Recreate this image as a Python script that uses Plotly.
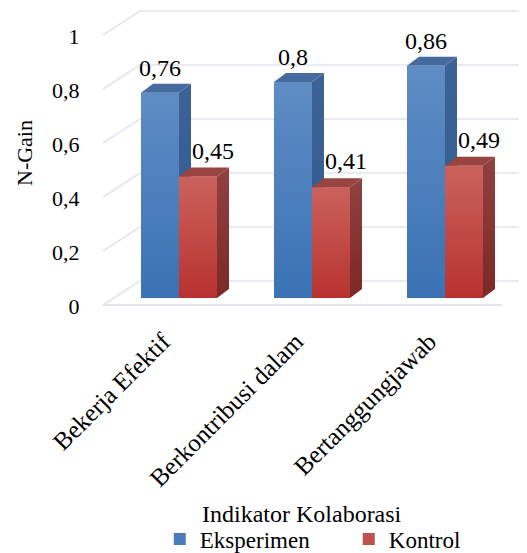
import plotly.graph_objects as go

categories = ["Bekerja Efektif", "Berkontribusi dalam", "Bertanggungjawab"]
eksperimen = [0.76, 0.8, 0.86]
kontrol = [0.45, 0.41, 0.49]
y_ticks = [0, 0.2, 0.4, 0.6, 0.8, 1]
x_title = "Indikator Kolaborasi"
y_title = "N-Gain"

FONT = "Liberation Serif"
W, H = 519, 545                   # page body margin is 8 px
L, R, T, B = 92, 519, 0, 307      # plot area in figure pixels
UX, UY = 133.0, 270.0             # pixels per data unit
X0, Y0 = 171.0, 290.0             # figure pixel of x=0, y=0
BAR = 38 / UX                     # bar width in x units
DX, DY = 12 / UX, 9 / UY          # bar depth
WX, WY = 37 / UX, 24 / UY         # floor depth
FX, FY = -76 / UX, -7 / UY        # front-left floor corner
GRID = "#e2e5ef"


def dx(p):
    return p / UX


def dy(p):
    return p / UY


def px(p):
    return (p - L) / (R - L)


def py(p):
    return (B - p) / (B - T)


def poly(xs, ys, stops, kind="vertical"):
    return go.Scatter(
        x=xs, y=ys, mode="lines", fill="toself", line=dict(width=0),
        fillgradient=dict(type=kind, colorscale=stops),
        hoverinfo="skip", showlegend=False,
    )


fig = go.Figure()

# wall / floor grid
for v in y_ticks:
    yf = v + FY
    yb = yf + WY
    xl = FX
    xb = xl + WX
    fig.add_trace(go.Scatter(x=[xl, xb, dx(R - X0)], y=[yf, yb, yb], mode="lines",
                             line=dict(color=GRID, width=1.6), hoverinfo="skip", showlegend=False))
fig.add_trace(go.Scatter(x=[FX, dx(494 - X0)], y=[FY, FY], mode="lines",
                         line=dict(color=GRID, width=1.8), hoverinfo="skip", showlegend=False))

SERIES = [
    dict(name="Eksperimen", vals=eksperimen, off=-BAR, color="#4a7cbb",
         front=[[0, "#3a72b4"], [1, "#5f8cc4"]],
         side=[[0, "#2f5a90"], [1, "#3d6296"]], top="#466c9f"),
    dict(name="Kontrol", vals=kontrol, off=0.0, color="#c0504d",
         front=[[0, "#b8322e"], [1, "#cb625e"]],
         side=[[0, "#7c2826"], [1, "#8f4240"]], top="#984541"),
]

for s in SERIES:
    xc = [i + s["off"] + BAR / 2 for i in range(len(categories))]
    for i, v in enumerate(s["vals"]):
        x0 = i + s["off"]
        x1 = x0 + BAR
        fig.add_trace(poly([x1, x1 + DX, x1 + DX, x1, x1],
                           [0, DY, v + DY, v, 0], s["side"]))
        fig.add_trace(go.Scatter(x=[x0, x0 + DX, x1 + DX, x1, x0], y=[v, v + DY, v + DY, v, v],
                                 mode="lines", fill="toself", fillcolor=s["top"], line=dict(width=0),
                                 hoverinfo="skip", showlegend=False))
    fig.add_trace(go.Bar(x=xc, y=s["vals"], width=BAR, name=s["name"],
                         marker=dict(color=s["color"], line=dict(width=0))))
    for i, v in enumerate(s["vals"]):
        x0 = i + s["off"]
        x1 = x0 + BAR
        fig.add_trace(poly([x0, x1, x1, x0, x0], [0, 0, v, v, 0], s["front"]))

# data labels
label_x = [i - BAR / 2 for i in range(3)] + [i + BAR / 2 + dx(15) for i in range(3)]
label_y = [v + dy(23) for v in eksperimen] + [v + dy(24) for v in kontrol]
label_t = [f"{v:g}".replace(".", ",") for v in eksperimen + kontrol]
fig.add_trace(go.Scatter(x=label_x, y=label_y, text=label_t, mode="text",
                         textposition="middle center",
                         textfont=dict(family=FONT, size=24, color="#000000"),
                         hoverinfo="skip", showlegend=False, cliponaxis=False))

fig.update_layout(
    width=W, height=H, autosize=False,
    margin=dict(l=L, r=W - R, t=T, b=H - B, pad=0, autoexpand=False),
    paper_bgcolor="white", plot_bgcolor="white",
    separators=",.",
    barmode="overlay",
    font=dict(family=FONT, size=22, color="#000000"),
    showlegend=True,
    legend=dict(orientation="h", x=0.14, xanchor="left", y=py(531), yanchor="middle",
                traceorder="normal",
                font=dict(family=FONT, size=23), entrywidth=144, entrywidthmode="pixels",
                itemsizing="constant", bgcolor="rgba(0,0,0,0)"),
    xaxis=dict(range=[(L - X0) / UX, (R - X0) / UX], tickmode="array", tickvals=[0, 1, 2],
               ticktext=categories, tickangle=-45, showgrid=False, zeroline=False,
               showline=False, ticks="outside", ticklen=1, tickcolor="rgba(0,0,0,0)",
               ticklabelshift=-16,
               tickfont=dict(family=FONT, size=25), automargin=False),
    yaxis=dict(range=[(Y0 - B) / UY, (Y0 - T) / UY], tickmode="array", tickvals=y_ticks,
               showgrid=False, zeroline=False, showline=False, ticks="outside", ticklen=15,
               tickcolor="rgba(0,0,0,0)", ticklabelshift=8, automargin=False,
               tickfont=dict(family=FONT, size=22)),
    annotations=[
        dict(text=x_title, xref="paper", yref="paper", x=px(294), y=py(506), showarrow=False,
             xanchor="center", yanchor="middle", font=dict(family=FONT, size=24)),
        dict(text=y_title, xref="paper", yref="paper", x=px(16), y=py(145), showarrow=False,
             textangle=-90, xanchor="center", yanchor="middle", font=dict(family=FONT, size=22)),
    ],
)

fig.write_html("out.html")
